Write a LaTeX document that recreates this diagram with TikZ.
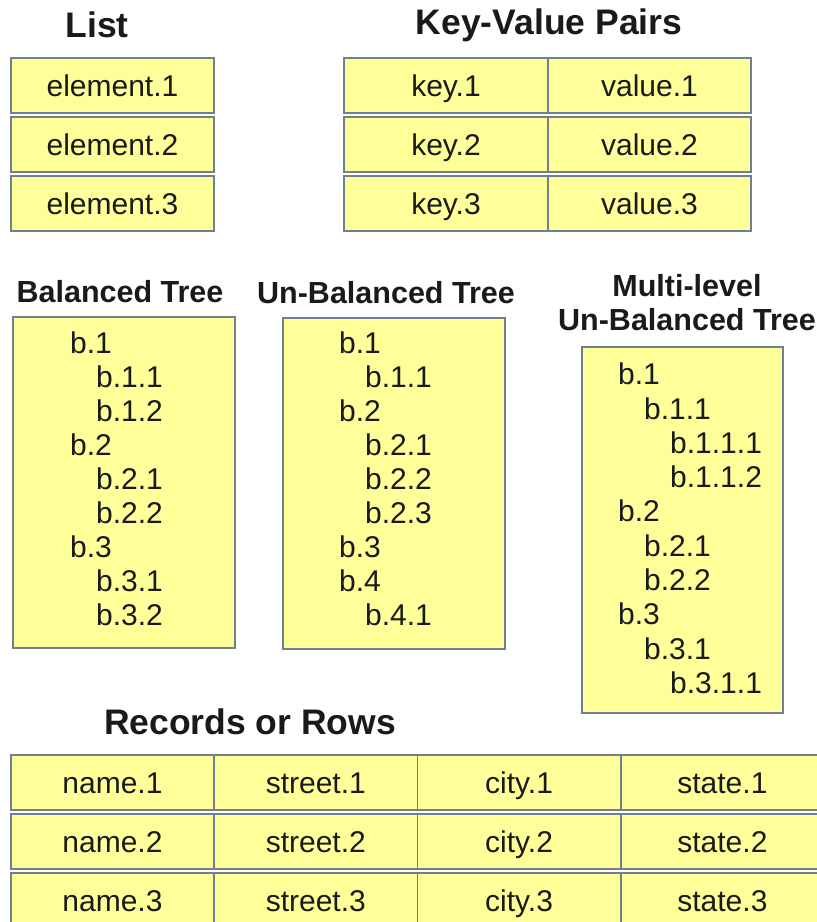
\documentclass[tikz,border=0pt]{standalone}
\usepackage{fontspec}
\setmainfont{Liberation Sans}
\usetikzlibrary{positioning}
\definecolor{cellfill}{RGB}{255,255,153}
\definecolor{celledge}{RGB}{112,128,144}
\definecolor{ink}{RGB}{26,26,26}
\tikzstyle{every node}=[text=ink]
\tikzstyle{cell}=[draw=celledge,fill=cellfill,line width=1.5pt,rectangle,
  minimum height=55pt,minimum width=203pt,inner sep=0pt,
  text height=21.5pt,text depth=0pt,
  font=\fontsize{30}{34}\selectfont]
\tikzstyle{treebox}=[draw=celledge,fill=cellfill,line width=1.5pt,rectangle,inner sep=0pt]
\tikzstyle{leaf}=[anchor=west,inner sep=0pt,font=\fontsize{30}{34}\selectfont]
\tikzstyle{title}=[font=\bfseries\fontsize{35.5}{40}\selectfont]
\tikzstyle{subtitle}=[font=\bfseries\fontsize{30.5}{34}\selectfont,align=center]

\begin{document}
\begin{tikzpicture}[x=1pt,y=-1pt]
  \useasboundingbox (0,0) rectangle (817,922);
  % list
  \node[title] (listT) at (97,25) {List};
  \node[cell] (el1) at (112.5,85.5) {element.1};
  \node[cell,below of=el1,node distance=59pt] (el2) {element.2};
  \node[cell,below of=el2,node distance=59pt] (el3) {element.3};
  % key-value pairs
  \node[title] (kvT) at (549,25) {Key-Value Pairs};
  \node[cell,minimum width=204pt] (key1) at (446,85.5) {key.1};
  \node[cell,below of=key1,node distance=59pt,minimum width=204pt] (key2) {key.2};
  \node[cell,below of=key2,node distance=59pt,minimum width=204pt] (key3) {key.3};
  \node[cell,right of=key1,node distance=203.5pt] (val1) {value.1};
  \node[cell,right of=key2,node distance=203.5pt] (val2) {value.2};
  \node[cell,right of=key3,node distance=203.5pt] (val3) {value.3};
  % trees
  \node[subtitle] (balT) at (120,292) {Balanced Tree};
  \node[treebox,minimum width=222pt,minimum height=331pt] (bal) at (124,482.5) {};
  \foreach \t/\l [count=\i] in {b.1/0,b.1.1/1,b.1.2/1,b.2/0,b.2.1/1,b.2.2/1,b.3/0,b.3.1/1,b.3.2/1}
    \node[leaf] (bal\i) at ({70+26*\l},{343+34*(\i-1)}) {\t};
  \node[subtitle] (unbT) at (386,293) {Un-Balanced Tree};
  \node[treebox,minimum width=222pt,minimum height=331pt] (unb) at (394,483.5) {};
  \foreach \t/\l [count=\i] in {b.1/0,b.1.1/1,b.2/0,b.2.1/1,b.2.2/1,b.2.3/1,b.3/0,b.4/0,b.4.1/1}
    \node[leaf] (unb\i) at ({339+26*\l},{343+34*(\i-1)}) {\t};
  \node[subtitle] (mulT) at (687,303) {Multi-level\\Un-Balanced Tree};
  \node[treebox,minimum width=201pt,minimum height=366pt] (mul) at (682.5,530) {};
  \foreach \t/\l [count=\i] in {b.1/0,b.1.1/1,b.1.1.1/2,b.1.1.2/2,b.2/0,b.2.1/1,b.2.2/1,b.3/0,b.3.1/1,b.3.1.1/2}
    \node[leaf] (mul\i) at ({618+26*\l},{374+34.3*(\i-1)}) {\t};
  % records
  \node[title] (recT) at (250,722) {Records or Rows};
  \foreach \r in {1,2,3}
    \foreach \w [count=\k] in {name,street,city,state}
      \node[cell] (\w\r) at ({112.5+203.3*(\k-1)},{782.5+59*(\r-1)}) {\w.\r};
\end{tikzpicture}
\end{document}
